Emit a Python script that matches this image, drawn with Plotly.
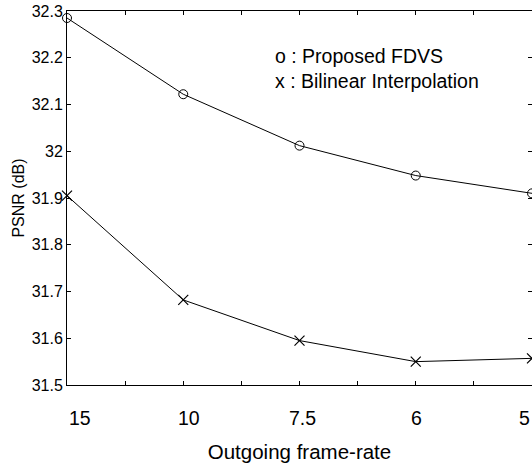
import plotly.graph_objects as go

x_pos = [1, 2, 3, 4, 5]
x_labels = ["15", "10", "7.5", "6", "5"]
fdvs = [32.285, 32.122, 32.012, 31.948, 31.910]
bilinear = [31.905, 31.682, 31.595, 31.550, 31.557]
y_ticks = [31.5, 31.6, 31.7, 31.8, 31.9, 32.0, 32.1, 32.2, 32.3]
y_ticklabels = ["31.5", "31.6", "31.7", "31.8", "31.9", "32", "32.1", "32.2", "32.3"]
legend_lines = ["o : Proposed FDVS", "x : Bilinear Interpolation"]

FONT = "Liberation Sans, Arial, Helvetica, sans-serif"

fig = go.Figure()
fig.add_trace(go.Scatter(x=x_pos, y=fdvs, mode="lines+markers",
                         line=dict(color="black", width=1),
                         marker=dict(symbol="circle-open", size=9, color="black", line=dict(width=1)),
                         cliponaxis=False, showlegend=False))
fig.add_trace(go.Scatter(x=x_pos, y=bilinear, mode="lines+markers",
                         line=dict(color="black", width=1),
                         marker=dict(symbol="x-thin-open", size=10, color="black", line=dict(width=1.2)),
                         cliponaxis=False, showlegend=False))

anchors = ["left", "center", "center", "center", "right"]
shifts = [0, 6, 3, 1, 0]
for xv, lab, anc, sh in zip(x_pos, x_labels, anchors, shifts):
    fig.add_annotation(x=xv, y=0, xref="x", yref="paper", text=lab, showarrow=False,
                       xanchor=anc, yanchor="middle", yshift=-33, xshift=sh,
                       font=dict(family=FONT, size=19.5, color="black"))

fig.add_annotation(x=0.443, y=0.847, xref="paper", yref="paper", text="<br>".join(legend_lines),
                   showarrow=False, xanchor="left", yanchor="middle", align="left",
                   font=dict(family=FONT, size=19.5, color="black"))

fig.update_layout(
    width=532, height=470,
    margin=dict(l=67, r=0, t=11, b=85),
    paper_bgcolor="white", plot_bgcolor="white",
    font=dict(family=FONT, color="black"),
    xaxis=dict(range=[1, 5], tickvals=[1, 1.5, 2, 2.5, 3, 3.5, 4, 4.5, 5], showticklabels=False,
               ticks="inside", ticklen=4, tickcolor="black", showline=True, linecolor="black",
               linewidth=1, mirror="ticks", showgrid=False, zeroline=False, automargin=False,
               title=dict(text="Outgoing frame-rate", font=dict(family=FONT, size=20.5), standoff=59)),
    yaxis=dict(range=[31.5, 32.3], tickvals=y_ticks, ticktext=y_ticklabels,
               ticks="inside", ticklen=4, tickcolor="black", showline=True, linecolor="black",
               linewidth=1, mirror="ticks", showgrid=False, zeroline=False, automargin=False,
               tickfont=dict(family=FONT, size=16),
               title=dict(text="PSNR (dB)", font=dict(family=FONT, size=16), standoff=3)),
)

fig.write_html("out.html")
